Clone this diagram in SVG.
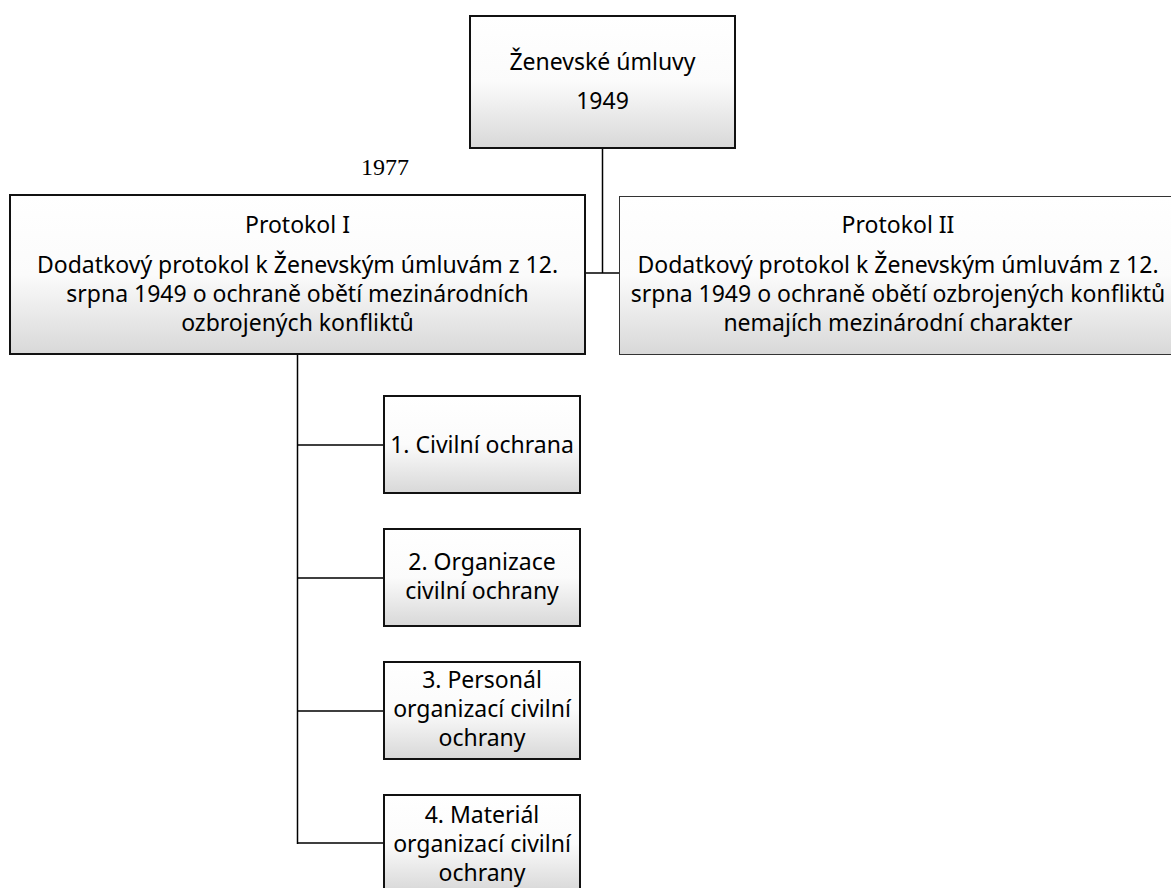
<svg xmlns="http://www.w3.org/2000/svg" width="1171" height="888" viewBox="0 0 1171 888">
<defs>
<linearGradient id="g" x1="0" y1="0" x2="0" y2="1">
<stop offset="0" stop-color="#ffffff"/>
<stop offset="0.5" stop-color="#fbfbfb"/>
<stop offset="1" stop-color="#d8d8d8"/>
</linearGradient>
<style>
.box{fill:url(#g);stroke:#111;stroke-width:2}
.thin{stroke-width:1;stroke:#333}
.t{font-family:"Noto Sans","Open Sans",sans-serif;font-size:23px;fill:#000;text-anchor:middle}
.c{fill:none;stroke:#000;stroke-width:1.5}
</style>
</defs>
<rect width="1171" height="888" fill="#fff"/>
<g id="connectors">
<path class="c" d="M602.5 148V273M585 273H619"/>
<path class="c" d="M297.5 354V844M297 445H384M297 578H384M297 711H384M297 843H384"/>
</g>
<text x="385" y="175" font-family="'Liberation Serif',serif" font-size="24" text-anchor="middle">1977</text>
<g id="zenevske">
<rect class="box" x="470" y="16" width="265" height="132"/>
<text class="t" x="602.5" y="70">Ženevské úmluvy</text>
<text class="t" x="602.5" y="109">1949</text>
</g>
<g id="protokol1">
<rect class="box" x="10" y="195" width="575" height="159"/>
<text class="t" x="297.5" y="233">Protokol I</text>
<text class="t" x="297.5" y="273">Dodatkový protokol k Ženevským úmluvám z 12.</text>
<text class="t" x="297.5" y="302">srpna 1949 o ochraně obětí mezinárodních</text>
<text class="t" x="297.5" y="331">ozbrojených konfliktů</text>
</g>
<g id="protokol2">
<rect class="box thin" x="619.5" y="196.5" width="560" height="158"/>
<text class="t" x="898" y="233">Protokol II</text>
<text class="t" x="898" y="273">Dodatkový protokol k Ženevským úmluvám z 12.</text>
<text class="t" x="898" y="302">srpna 1949 o ochraně obětí ozbrojených konfliktů</text>
<text class="t" x="898" y="331">nemajích mezinárodní charakter</text>
</g>
<g id="n1">
<rect class="box" x="384" y="396" width="196" height="97"/>
<text class="t" x="482" y="453">1. Civilní ochrana</text>
</g>
<g id="n2">
<rect class="box" x="384" y="529" width="196" height="97"/>
<text class="t" x="482" y="570">2. Organizace</text>
<text class="t" x="482" y="599">civilní ochrany</text>
</g>
<g id="n3">
<rect class="box" x="384" y="662" width="196" height="97"/>
<text class="t" x="482" y="688">3. Personál</text>
<text class="t" x="482" y="717">organizací civilní</text>
<text class="t" x="482" y="746">ochrany</text>
</g>
<g id="n4">
<rect class="box" x="384" y="795" width="196" height="97"/>
<text class="t" x="482" y="823">4. Materiál</text>
<text class="t" x="482" y="852">organizací civilní</text>
<text class="t" x="482" y="881">ochrany</text>
</g>
</svg>
